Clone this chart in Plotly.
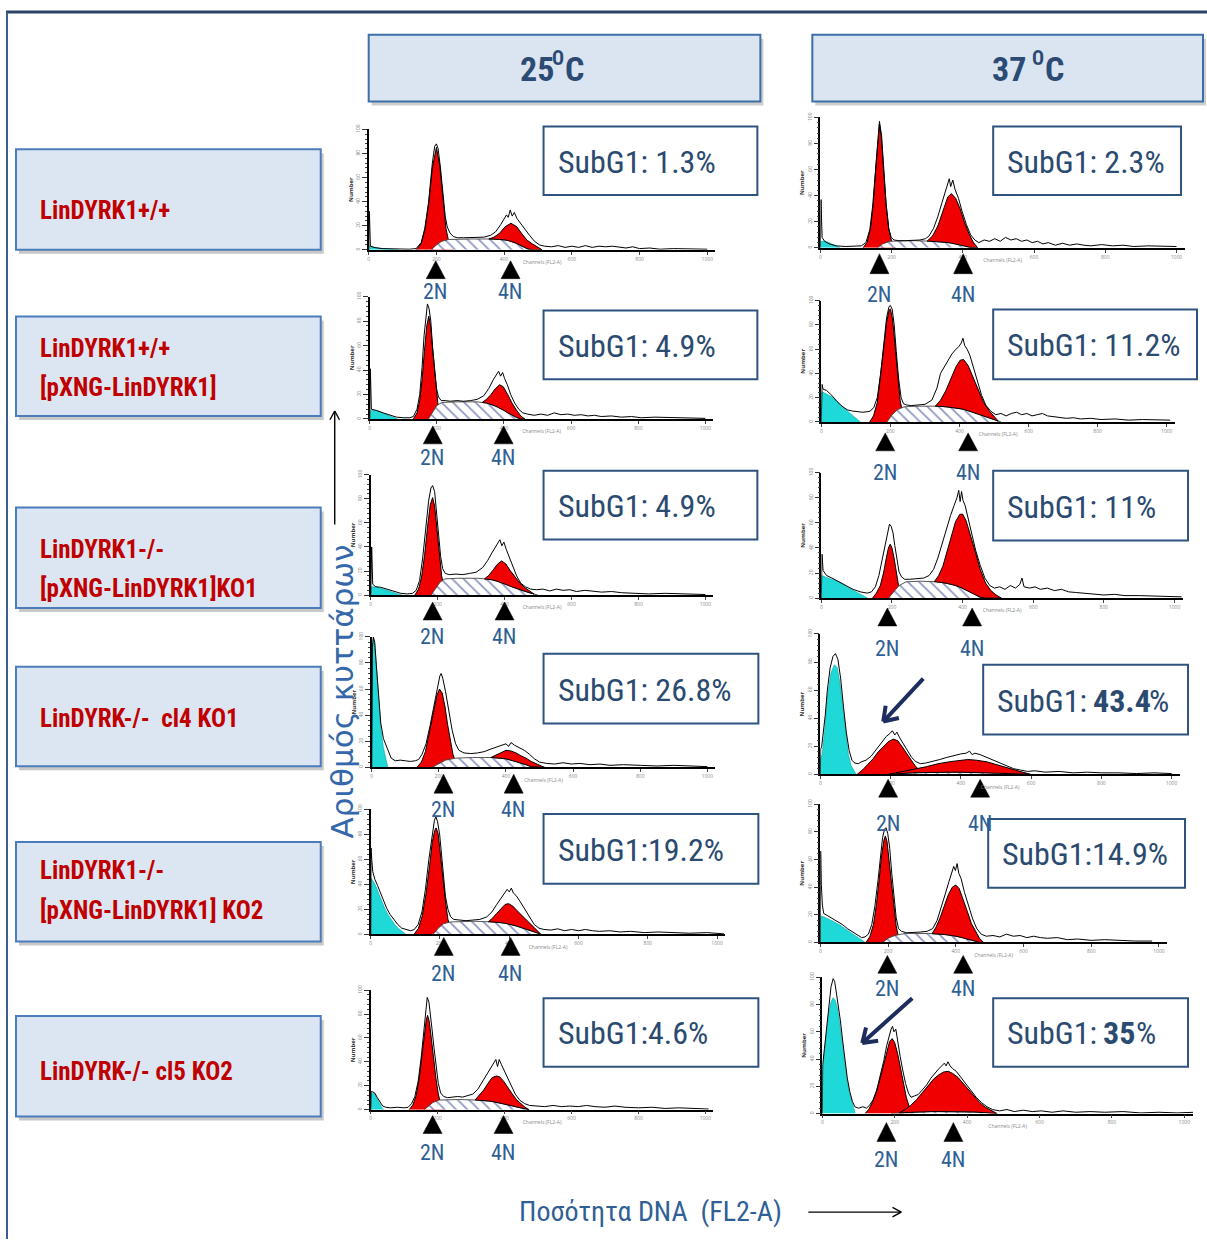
import numpy as np
import plotly.graph_objects as go

W, H = 1207, 1240
NARROW = "Liberation Sans Narrow, Arial Narrow, Roboto Condensed, sans-serif"
WIDE = "DejaVu Sans, Verdana, sans-serif"

# ---------------------------------------------------------------------------
# Data: DNA-content histograms (channel 0-1024, relative cell count 0-100)
# Each component is a list of (channel, count) points.
#   sub = sub-G1 (cyan), g1 = G1 peak (red), s = S phase (hatched),
#   g2 = G2/M peak height above S phase (red), raw = measured histogram.
# ---------------------------------------------------------------------------

# LinDYRK1+/+  25 C
sub_wt_25 = [(0, 0), (1, 3), (10, 3), (25, 1.5), (45, 1), (70, 0.5), (90, 0)]
g1_wt_25 = [(140, 0), (155, 5), (166, 17), (177, 38), (188, 68), (200, 85), (210, 70),
            (219, 42), (228, 18), (237, 6), (248, 0)]
s_wt_25 = [(185, 0), (200, 4), (215, 7), (235, 8.5), (300, 9), (370, 9), (410, 8),
           (440, 5), (460, 2), (475, 0)]
g2_wt_25 = [(355, 0), (370, 1.5), (386, 5), (403, 11), (420, 15), (437, 14), (453, 10),
            (468, 7), (483, 5), (498, 2.5), (512, 0)]
raw_wt_25 = [(0, 0), (2, 32), (5, 3), (15, 2), (40, 1), (80, 0.5), (120, 0.5), (140, 1),
             (155, 6), (166, 18), (177, 40), (188, 72), (195, 86), (200, 88), (205, 84),
             (212, 68), (219, 46), (226, 28), (232, 19), (240, 14), (250, 11), (262, 10),
             (280, 10), (300, 10), (320, 10), (340, 10.5), (360, 12), (375, 15), (390, 21),
             (400, 26), (407, 29), (412, 27), (418, 33), (424, 28), (430, 31), (438, 26),
             (448, 22), (460, 17), (475, 12), (490, 7), (505, 4), (520, 3), (540, 2.5),
             (560, 3.5), (580, 2), (600, 3), (620, 2), (640, 3.5), (660, 2), (680, 3),
             (700, 2.5), (720, 3), (740, 2), (760, 1.5), (780, 2.5), (800, 1), (830, 1.5),
             (860, 0.5), (900, 1), (950, 0.5), (1000, 0.5)]

# LinDYRK1+/+  37 C
sub_wt_37 = [(0, 0), (1, 5), (15, 5), (30, 3.5), (45, 1.5), (55, 0)]
g1_wt_37 = [(120, 0), (131, 4), (141, 15), (149, 35), (156, 62), (162, 85), (166, 95),
            (171, 86), (177, 62), (184, 35), (192, 15), (200, 5), (210, 0)]
s_wt_37 = [(160, 0), (175, 3), (195, 5), (260, 5.5), (320, 5), (360, 4), (390, 2.5),
           (410, 1), (425, 0)]
g2_wt_37 = [(300, 0), (315, 4), (330, 12), (345, 25), (358, 35), (368, 38), (380, 35),
            (392, 28), (405, 18), (418, 10), (430, 4), (442, 0)]
raw_wt_37 = [(0, 0), (2, 37), (5, 8), (12, 5), (25, 3), (45, 1.5), (70, 1), (100, 1),
             (115, 1.5), (128, 4), (139, 14), (147, 32), (155, 60), (161, 85), (166, 97),
             (172, 86), (178, 60), (185, 33), (192, 15), (199, 8), (207, 6), (220, 5.5),
             (240, 5.5), (260, 6), (280, 6), (295, 7), (305, 9), (318, 15), (330, 24),
             (342, 35), (352, 44), (358, 48), (362, 53), (366, 47), (372, 52), (378, 45),
             (388, 38), (398, 28), (410, 18), (422, 10), (434, 6), (445, 4), (460, 6),
             (475, 5), (490, 7), (505, 5), (520, 8), (535, 6), (550, 7), (565, 5), (580, 6),
             (595, 4), (610, 5), (625, 3), (640, 4), (660, 2), (680, 3.5), (700, 2),
             (720, 3), (740, 2), (760, 1.5), (790, 2.5), (820, 1.5), (850, 2), (880, 1),
             (920, 1.5), (960, 1), (1000, 1)]

# LinDYRK1+/+ [pXNG-LinDYRK1]  25 C
sub_add_25 = [(0, 0), (1, 7), (20, 7), (35, 5.5), (50, 3.5), (65, 2), (83, 0)]
g1_add_25 = [(130, 0), (141, 5), (149, 15), (156, 32), (163, 55), (170, 76), (176, 84),
             (182, 75), (189, 52), (196, 30), (203, 13), (211, 4), (220, 0)]
s_add_25 = [(175, 0), (188, 6), (200, 11), (215, 13.5), (260, 14), (320, 14), (350, 13),
            (380, 10), (400, 7), (420, 3.5), (440, 1), (450, 0)]
g2_add_25 = [(335, 0), (348, 3), (361, 8), (374, 14), (387, 19), (398, 19), (411, 15),
             (424, 10), (437, 6), (450, 2.5), (462, 0)]
raw_add_25 = [(0, 0), (2, 41), (5, 8), (20, 7), (40, 5), (60, 3), (80, 1.5), (100, 1),
              (120, 1), (130, 2), (141, 8), (149, 20), (156, 42), (162, 68), (168, 88),
              (172, 94), (177, 90), (182, 80), (187, 60), (193, 40), (199, 25), (205, 18),
              (213, 15), (225, 15), (240, 14.5), (260, 15), (280, 14.5), (300, 15),
              (320, 16), (340, 19), (355, 25), (368, 32), (378, 36), (384, 39), (390, 35),
              (396, 38), (402, 33), (410, 28), (420, 20), (432, 13), (444, 8), (456, 5),
              (470, 4), (490, 3), (510, 4), (530, 3), (550, 5), (570, 3.5), (590, 4),
              (610, 3), (630, 3.5), (650, 2.5), (670, 3), (690, 2), (720, 2.5), (750, 1.5),
              (780, 2), (810, 1), (850, 1.5), (900, 1), (950, 1), (1000, 0.5)]

# LinDYRK1+/+ [pXNG-LinDYRK1]  37 C
sub_add_37 = [(0, 0), (1, 25), (15, 23), (35, 20), (55, 14), (75, 9), (95, 4), (113, 0)]
g1_add_37 = [(140, 0), (151, 5), (162, 16), (172, 38), (181, 62), (189, 82), (196, 92),
             (200, 93), (206, 85), (213, 65), (220, 40), (228, 18), (236, 6), (245, 0)]
s_add_37 = [(190, 0), (205, 6), (220, 10), (240, 12.5), (280, 13), (340, 13), (380, 12),
            (420, 10), (450, 7), (480, 4), (505, 1.5), (520, 0)]
g2_add_37 = [(330, 0), (345, 5), (360, 13), (375, 24), (390, 34), (402, 40), (412, 41),
             (425, 37), (440, 28), (455, 19), (470, 11), (485, 6), (500, 2.5), (512, 0)]
raw_add_37 = [(0, 0), (2, 31), (5, 27), (15, 26), (30, 22), (45, 17), (60, 13), (75, 10),
              (90, 9), (105, 8.5), (120, 8), (135, 8.5), (142, 9), (152, 12), (162, 20),
              (172, 40), (181, 65), (189, 86), (196, 95), (200, 96), (205, 93), (211, 80),
              (217, 58), (224, 35), (231, 20), (238, 15), (247, 14), (260, 13.5), (280, 14),
              (300, 14.5), (320, 18), (335, 28), (345, 40), (355, 45), (365, 50), (378, 56),
              (390, 60), (398, 62), (405, 65), (410, 69), (415, 63), (422, 60), (430, 55),
              (440, 45), (452, 32), (464, 22), (476, 14), (490, 9), (505, 6), (520, 7),
              (535, 5), (550, 7), (565, 8), (580, 6), (595, 7), (610, 5), (625, 6), (640, 7),
              (655, 5), (670, 4.5), (690, 4), (710, 3), (730, 3.5), (750, 2.5), (780, 3),
              (810, 2), (850, 2.5), (890, 1.5), (930, 2), (970, 1.5), (1010, 1.5)]

# LinDYRK1-/- [pXNG-LinDYRK1]KO1  25 C
sub_ko1_25 = [(0, 0), (1, 7), (20, 6.5), (40, 5), (60, 3), (80, 1.2), (95, 0)]
g1_ko1_25 = [(132, 0), (143, 5), (152, 15), (161, 33), (170, 57), (178, 75), (185, 81),
             (191, 74), (198, 55), (205, 33), (212, 16), (220, 5), (228, 0)]
s_ko1_25 = [(180, 0), (195, 6), (208, 11), (222, 13.5), (260, 14), (320, 14), (360, 13),
            (390, 10.5), (420, 7), (450, 4), (480, 1.5), (500, 0)]
g2_ko1_25 = [(340, 0), (352, 3), (365, 8), (378, 14), (391, 18), (404, 17), (417, 13),
             (431, 9), (446, 5.5), (461, 3), (476, 1), (488, 0)]
raw_ko1_25 = [(0, 0), (3, 40), (6, 9), (15, 7), (30, 6.5), (50, 5), (70, 3), (90, 1.5),
              (110, 1), (125, 1.5), (136, 4), (146, 12), (155, 30), (164, 55), (173, 78),
              (180, 89), (185, 91), (191, 86), (197, 70), (203, 50), (209, 32), (215, 22),
              (223, 18), (235, 17), (255, 17.5), (275, 17), (295, 18), (315, 19), (335, 23),
              (350, 29), (362, 35), (372, 40), (380, 43), (386, 46), (392, 41), (398, 44),
              (405, 38), (414, 32), (424, 24), (436, 16), (448, 10), (462, 7), (478, 5),
              (495, 4.5), (515, 5), (535, 3.5), (555, 5), (575, 4), (595, 4.5), (615, 3),
              (640, 4), (665, 3), (690, 2.5), (720, 3), (750, 2), (790, 1.5), (830, 1),
              (880, 1.5), (940, 1), (1000, 0.5)]

# LinDYRK1-/- [pXNG-LinDYRK1]KO1  37 C
sub_ko1_37 = [(0, 0), (1, 18), (15, 16.5), (35, 14.5), (54, 12.5), (75, 8.5), (101, 4.5),
              (118, 2), (131, 0)]
g1_ko1_37 = [(145, 0), (156, 4), (167, 10), (176, 20), (184, 32), (190, 40), (195, 43),
             (200, 40), (206, 32), (212, 21), (218, 11), (225, 4), (234, 0)]
s_ko1_37 = [(190, 0), (205, 5), (220, 10), (240, 13), (280, 13.5), (330, 13), (370, 11),
            (400, 8), (425, 4.5), (445, 1.5), (455, 0)]
g2_ko1_37 = [(320, 0), (332, 5), (344, 13), (356, 25), (368, 39), (380, 51), (392, 58),
             (400, 59), (410, 55), (422, 46), (436, 34), (450, 22), (465, 12), (480, 6),
             (495, 2.5), (510, 0)]
raw_ko1_37 = [(0, 0), (2, 35), (5, 22), (15, 18), (30, 16), (50, 13), (70, 10), (90, 7),
              (110, 5), (130, 4), (142, 5), (153, 9), (163, 18), (173, 32), (182, 46),
              (189, 55), (193, 59), (198, 57), (203, 52), (208, 42), (214, 30), (220, 21),
              (227, 17), (236, 15), (250, 15), (270, 15.5), (290, 16), (305, 18), (318, 23),
              (330, 32), (342, 44), (354, 56), (366, 66), (376, 74), (384, 80), (389, 86),
              (393, 77), (397, 85), (401, 78), (407, 74), (415, 64), (425, 52), (437, 38),
              (450, 26), (463, 16), (477, 10), (490, 8), (505, 9), (520, 7), (535, 10),
              (550, 8), (562, 11), (568, 16), (574, 9), (590, 8), (605, 9), (620, 7),
              (640, 8), (660, 6), (680, 7), (700, 5), (720, 4.5), (745, 4), (770, 3),
              (800, 2.5), (830, 3), (860, 2), (900, 2), (940, 1.5), (980, 1.5), (1020, 1)]

# LinDYRK-/- cl4 KO1  25 C
sub_cl4_25 = [(0, 0), (2, 90), (5, 99), (9, 95), (14, 75), (20, 50), (27, 30), (35, 15),
              (42, 6), (48, 0)]
g1_cl4_25 = [(135, 0), (148, 4), (160, 12), (172, 26), (184, 42), (194, 55), (202, 60),
             (210, 57), (218, 47), (226, 33), (234, 20), (242, 10), (250, 4), (258, 0)]
s_cl4_25 = [(180, 0), (200, 3), (220, 5.5), (250, 7), (300, 7.5), (360, 7.5), (400, 6.5),
            (430, 4.5), (460, 2), (480, 0)]
g2_cl4_25 = [(355, 0), (370, 2), (385, 4.5), (400, 6.5), (415, 7), (430, 6.5), (445, 5.5),
             (460, 5), (475, 4), (490, 2.5), (505, 1), (515, 0)]
raw_cl4_25 = [(0, 0), (2, 92), (5, 100), (9, 96), (14, 78), (20, 54), (27, 34), (35, 22),
              (42, 17), (50, 12), (58, 7), (70, 5), (85, 5.5), (100, 5), (115, 4.5),
              (130, 5), (140, 6), (150, 10), (162, 18), (174, 32), (186, 48), (196, 63),
              (203, 70), (207, 72), (212, 68), (220, 58), (230, 42), (240, 28), (250, 18),
              (260, 13), (275, 11), (295, 10.5), (315, 11), (335, 12), (355, 14), (375, 16),
              (390, 17), (400, 18), (408, 16), (415, 19), (425, 17), (440, 15), (455, 13),
              (470, 10), (485, 6.5), (500, 4), (520, 3), (545, 2.5), (570, 3.5), (595, 2.5),
              (620, 3), (650, 2), (680, 2.5), (710, 1.5), (750, 2), (800, 1.5), (850, 1),
              (900, 1.5), (950, 1), (1000, 0.5)]

# LinDYRK-/- cl4 KO1  37 C
sub_cl4_37 = [(0, 0), (1, 11), (5, 14), (12, 30), (20, 55), (30, 72), (40, 78), (48, 76),
              (56, 65), (64, 47), (72, 28), (80, 14), (88, 6), (96, 2), (102, 0)]
g1_cl4_37 = [(105, 0), (120, 3), (135, 7), (150, 11), (165, 16), (180, 20), (195, 23.5),
             (208, 25), (220, 24), (232, 20), (245, 15), (258, 10), (270, 6), (282, 3),
             (295, 0)]
s_cl4_37 = [(200, 0), (260, 1), (330, 1.5), (450, 1.5), (520, 1), (580, 0)]
g2_cl4_37 = [(195, 0), (230, 1), (265, 2.5), (300, 4), (335, 6), (370, 7.5), (400, 8.5),
             (420, 9), (445, 8.5), (475, 7.5), (505, 5.5), (535, 3.5), (565, 2), (598, 0)]
raw_cl4_37 = [(0, 0), (1, 18), (4, 20), (8, 28), (14, 42), (20, 60), (28, 76), (36, 84),
              (43, 86), (50, 82), (58, 68), (66, 48), (74, 30), (82, 17), (90, 10), (98, 8),
              (108, 7.5), (118, 9), (130, 10), (145, 13), (160, 18), (175, 23), (188, 27),
              (198, 29), (205, 31), (212, 28), (218, 30), (226, 26), (236, 22), (248, 17),
              (260, 12), (272, 9), (285, 7.5), (300, 8), (320, 9), (340, 10.5), (360, 12),
              (380, 13.5), (400, 14.5), (415, 15), (425, 16.5), (432, 14), (440, 15),
              (455, 14), (470, 12.5), (490, 10), (510, 8), (530, 6), (550, 4), (570, 3),
              (590, 2), (610, 2.5), (640, 1.5), (680, 2), (720, 1), (760, 1.5), (800, 1),
              (850, 1), (900, 0.5), (950, 1), (1000, 0.5)]

# LinDYRK1-/- [pXNG-LinDYRK1] KO2  25 C
sub_ko2_25 = [(0, 0), (1, 45), (8, 42), (16, 38), (24, 32), (32, 26), (42, 20), (52, 15),
              (62, 11), (72, 7), (84, 4), (95, 1.5), (102, 0)]
g1_ko2_25 = [(125, 0), (138, 5), (149, 15), (160, 33), (170, 55), (178, 74), (185, 83),
             (189, 85), (195, 80), (202, 64), (209, 44), (216, 26), (223, 12), (231, 4),
             (240, 0)]
s_ko2_25 = [(180, 0), (195, 5), (210, 8.5), (230, 10), (300, 10.5), (360, 10), (400, 8.5),
            (430, 6), (460, 3), (485, 1), (495, 0)]
g2_ko2_25 = [(340, 0), (352, 3), (364, 7), (376, 11), (388, 15), (398, 16), (410, 15),
             (422, 12.5), (435, 10), (448, 7.5), (462, 5), (476, 2.5), (490, 0)]
raw_ko2_25 = [(0, 0), (1, 69), (3, 60), (6, 50), (12, 44), (20, 39), (28, 33), (36, 27),
              (46, 21), (56, 16), (66, 12), (78, 8), (90, 5), (105, 3.5), (115, 3),
              (126, 4), (137, 8), (148, 18), (158, 36), (168, 60), (177, 80), (184, 91),
              (188, 94), (193, 90), (199, 80), (204, 66), (210, 48), (216, 30), (223, 20),
              (231, 14), (240, 12), (255, 11.5), (275, 11), (295, 11.5), (315, 12),
              (335, 14), (350, 18), (364, 24), (376, 29), (386, 33), (394, 36), (400, 34),
              (406, 37), (412, 33), (420, 31), (432, 26), (445, 20), (458, 14), (472, 8),
              (486, 5), (500, 4), (520, 3.5), (540, 4.5), (560, 3), (580, 4), (600, 3),
              (620, 4), (640, 3), (660, 2.5), (690, 3), (720, 2), (750, 2.5), (790, 1.5),
              (830, 2), (870, 1.5), (920, 1), (970, 1.5), (1020, 0.5)]

# LinDYRK1-/- [pXNG-LinDYRK1] KO2  37 C
sub_ko2_37 = [(0, 0), (1, 19), (10, 18.5), (25, 17), (40, 15), (55, 13), (70, 10.5),
              (85, 8), (100, 5.5), (115, 3), (125, 1.5), (133, 0)]
g1_ko2_37 = [(135, 0), (146, 4), (157, 13), (166, 28), (174, 46), (181, 63), (188, 74),
             (192, 77), (197, 73), (203, 60), (210, 42), (217, 25), (224, 12), (231, 4),
             (240, 0)]
s_ko2_37 = [(185, 0), (200, 3), (220, 5), (250, 6.5), (320, 6.5), (380, 5.5), (420, 3.5),
            (450, 1.5), (470, 0)]
g2_ko2_37 = [(330, 0), (342, 5), (354, 12), (366, 21), (378, 29), (390, 35), (400, 37),
             (410, 35), (422, 28), (434, 20), (446, 12), (458, 7), (470, 3), (482, 0)]
raw_ko2_37 = [(0, 0), (1, 66), (3, 42), (6, 27), (10, 21), (20, 19.5), (35, 17.5),
              (50, 15.5), (65, 13), (80, 10), (95, 7.5), (110, 5), (122, 3.5), (132, 4),
              (142, 6), (152, 13), (161, 26), (170, 44), (177, 62), (184, 76), (190, 82),
              (194, 83), (199, 79), (205, 68), (211, 50), (218, 32), (224, 18), (231, 10),
              (240, 8), (255, 7), (275, 7), (295, 7.5), (315, 8), (332, 10), (345, 16),
              (357, 25), (369, 35), (380, 44), (388, 50), (394, 55), (399, 52), (404, 57),
              (409, 50), (416, 46), (426, 36), (438, 26), (450, 17), (462, 10), (475, 6),
              (490, 4.5), (510, 5), (530, 4), (550, 6), (570, 4.5), (590, 5), (610, 3.5),
              (630, 4.5), (650, 3.5), (670, 3), (700, 3.5), (730, 2), (760, 2.5), (800, 1.5),
              (840, 2), (880, 1.5), (930, 1), (980, 1)]

# LinDYRK-/- cl5 KO2  25 C
sub_cl5_25 = [(0, 0), (1, 13), (6, 14), (12, 13), (18, 10), (25, 6), (32, 2.5), (39, 0)]
g1_cl5_25 = [(115, 0), (126, 4), (136, 12), (145, 26), (153, 45), (160, 63), (166, 75),
             (170, 79), (175, 74), (181, 60), (188, 42), (195, 26), (202, 13), (209, 5),
             (217, 0)]
s_cl5_25 = [(160, 0), (172, 3), (186, 6), (205, 8), (260, 8.5), (320, 8), (360, 7),
            (395, 5), (425, 3), (450, 1.2), (470, 0)]
g2_cl5_25 = [(312, 0), (325, 4), (338, 9), (351, 15), (363, 20), (375, 22), (385, 22),
             (397, 19), (410, 14), (423, 10), (436, 6), (449, 3.5), (461, 1.5), (473, 0)]
raw_cl5_25 = [(0, 0), (1, 15), (5, 15), (12, 14), (20, 10), (28, 6), (36, 3), (45, 2),
              (60, 1.5), (80, 2), (100, 1.5), (112, 2), (122, 5), (132, 11), (142, 24),
              (151, 44), (158, 66), (164, 84), (169, 94), (174, 90), (178, 82), (183, 68),
              (189, 52), (195, 36), (202, 22), (209, 14), (218, 11), (230, 10), (245, 10.5),
              (260, 11), (275, 10.5), (290, 11.5), (305, 13), (320, 17), (333, 23),
              (345, 29), (357, 34), (367, 38), (374, 42), (379, 36), (384, 42), (390, 38),
              (398, 33), (408, 27), (420, 19), (432, 13), (445, 8), (460, 5), (475, 3.5),
              (495, 3), (520, 2.5), (545, 3.5), (570, 2.5), (595, 3), (620, 2.5), (645, 3.5),
              (670, 2.5), (700, 2), (730, 3), (760, 2), (800, 1.5), (840, 2), (880, 1),
              (920, 1.5), (970, 1), (1010, 0.5)]

# LinDYRK-/- cl5 KO2  37 C
sub_cl5_37 = [(0, 0), (1, 34), (6, 45), (12, 60), (18, 74), (24, 82), (30, 85), (36, 83),
              (42, 77), (48, 66), (55, 52), (62, 37), (69, 23), (76, 14), (83, 7), (91, 0)]
g1_cl5_37 = [(118, 0), (128, 3), (138, 8), (148, 15), (158, 24), (168, 35), (178, 46),
             (186, 53), (193, 55), (200, 52), (208, 44), (216, 33), (224, 22), (232, 12),
             (240, 5), (248, 0)]
s_cl5_37 = [(190, 0), (240, 1), (300, 1.5), (380, 1.5), (440, 1), (480, 0)]
g2_cl5_37 = [(212, 0), (228, 2), (244, 5), (260, 9), (276, 14), (292, 19), (308, 24),
             (322, 27), (335, 29), (348, 29.5), (360, 28), (375, 25), (390, 20.5),
             (405, 15.5), (420, 11), (435, 7), (450, 4), (465, 2), (483, 0)]
raw_cl5_37 = [(0, 0), (1, 36), (6, 48), (12, 64), (18, 80), (24, 93), (30, 99), (34, 97),
              (38, 90), (44, 80), (50, 68), (56, 54), (62, 40), (69, 26), (76, 16), (83, 9),
              (90, 5), (100, 4), (112, 5), (122, 4), (130, 6), (140, 10), (150, 17),
              (160, 27), (170, 39), (178, 50), (185, 58), (190, 62), (194, 64), (198, 60),
              (203, 62), (208, 52), (215, 42), (222, 32), (230, 22), (238, 15), (245, 12),
              (255, 13), (265, 14), (275, 17), (288, 21), (300, 26), (312, 30), (322, 33),
              (330, 35), (337, 37), (342, 35), (347, 38), (353, 35), (360, 33), (370, 31),
              (382, 27), (395, 22), (410, 17), (425, 12), (440, 8), (455, 5), (470, 3),
              (490, 2), (510, 3), (530, 1.5), (555, 2.5), (580, 1.5), (605, 2), (635, 1),
              (665, 2), (700, 1), (740, 1.5), (780, 1), (830, 1.5), (880, 0.5), (930, 1),
              (980, 0.5), (1030, 1)]

# 2N / 4N reference channels marked under each histogram (rows top-down)
mark_2n_25 = [198, 188, 185, 214, 211, 185]
mark_4n_25 = [419, 399, 400, 423, 404, 397]
mark_2n_37 = [166, 185, 187, 193, 198, 177]
mark_4n_37 = [401, 425, 427, 455, 422, 362]

# Sub-G1 fractions (%)
subg1_25 = [1.3, 4.9, 4.9, 26.8, 19.2, 4.6]
subg1_37 = [2.3, 11.2, 11, 43.4, 14.9, 35]

temperatures = ["25", "37 "]
strain_lines = [
    ["LinDYRK1+/+"],
    ["LinDYRK1+/+", "[pXNG-LinDYRK1]"],
    ["LinDYRK1-/-", "[pXNG-LinDYRK1]KO1"],
    ["LinDYRK-/-  cl4 KO1"],
    ["LinDYRK1-/-", "[pXNG-LinDYRK1] KO2"],
    ["LinDYRK-/- cl5 KO2"],
]
y_title = "Αριθμός κυττάρων"
x_title = "Ποσότητα DNA  (FL2-A)"

histograms = {
    (0, 0): (sub_wt_25, g1_wt_25, s_wt_25, g2_wt_25, raw_wt_25),
    (0, 1): (sub_wt_37, g1_wt_37, s_wt_37, g2_wt_37, raw_wt_37),
    (1, 0): (sub_add_25, g1_add_25, s_add_25, g2_add_25, raw_add_25),
    (1, 1): (sub_add_37, g1_add_37, s_add_37, g2_add_37, raw_add_37),
    (2, 0): (sub_ko1_25, g1_ko1_25, s_ko1_25, g2_ko1_25, raw_ko1_25),
    (2, 1): (sub_ko1_37, g1_ko1_37, s_ko1_37, g2_ko1_37, raw_ko1_37),
    (3, 0): (sub_cl4_25, g1_cl4_25, s_cl4_25, g2_cl4_25, raw_cl4_25),
    (3, 1): (sub_cl4_37, g1_cl4_37, s_cl4_37, g2_cl4_37, raw_cl4_37),
    (4, 0): (sub_ko2_25, g1_ko2_25, s_ko2_25, g2_ko2_25, raw_ko2_25),
    (4, 1): (sub_ko2_37, g1_ko2_37, s_ko2_37, g2_ko2_37, raw_ko2_37),
    (5, 0): (sub_cl5_25, g1_cl5_25, s_cl5_25, g2_cl5_25, raw_cl5_25),
    (5, 1): (sub_cl5_37, g1_cl5_37, s_cl5_37, g2_cl5_37, raw_cl5_37),
}

# ---------------------------------------------------------------------------
# Layout geometry (pixels on the 1207 x 1240 canvas)
# ---------------------------------------------------------------------------
# histogram frames: left, right, top, bottom
frames = {
    (0, 0): (368, 715, 125, 246), (0, 1): (820, 1185, 113, 244),
    (1, 0): (369, 713, 293, 416), (1, 1): (821, 1175, 297, 419),
    (2, 0): (370, 713, 472, 593), (2, 1): (821, 1183, 470, 596),
    (3, 0): (371, 715, 635, 766), (3, 1): (820, 1180, 632, 773),
    (4, 0): (370, 725, 808, 934), (4, 1): (820, 1167, 803, 942),
    (5, 0): (370, 713, 990, 1110), (5, 1): (822, 1193, 977, 1114),
}
# ploidy markers: triangle top, triangle bottom, label centre
marker_rows = {
    (0, 0): (257, 275, 288), (0, 1): (250, 270, 291),
    (1, 0): (423, 441, 455), (1, 1): (430, 448, 470),
    (2, 0): (600, 618, 635), (2, 1): (606, 624, 647),
    (3, 0): (773, 792, 808), (3, 1): (778, 796, 822),
    (4, 0): (937, 955, 973), (4, 1): (955, 973, 988),
    (5, 0): (1116, 1134, 1153), (5, 1): (1123, 1142, 1160),
}
subg1_boxes = {
    (0, 0): (543, 122, 757, 191), (0, 1): (993, 122, 1181, 191),
    (1, 0): (543, 307, 757, 376), (1, 1): (993, 306, 1197, 376),
    (2, 0): (543, 468, 757, 537), (2, 1): (993, 468, 1188, 538),
    (3, 0): (543, 652, 758, 722), (3, 1): (983, 663, 1188, 733),
    (4, 0): (543, 813, 758, 883), (4, 1): (988, 818, 1185, 887),
    (5, 0): (543, 998, 758, 1067), (5, 1): (993, 998, 1188, 1067),
}
label_boxes = [(145, 246), (313, 413), (505, 606), (665, 765), (841, 941), (1016, 1117)]
label_text_y = [[207], [345, 384], [547, 586], [717], [870, 910], [1072]]
header_boxes = [(368, 30, 760, 97), (812, 30, 1203, 97)]
header_text_x = [517, 990]          # left edge of the header caption
header_num_w = [32, 40]             # width of the numeral part (incl. trailing space)

SUBG1_SPACED = {(4, 0), (5, 0), (4, 1)}
SUBG1_BOLD = {(3, 1), (5, 1)}

# rendered advance widths (px) of the caption pieces at size 32
HEAD_W = 88          # "SubG1:"
SPACE_W = 7
BOLD_DIGIT_W = 15.5
BOLD_DOT_W = 7.5

RED = "#f00000"
CYAN = "#1fd8d8"
NAVY_TXT = "#2a4a70"
BLUE_TXT = "#2f5f95"
DARK_RED = "#c00000"
HEAD_TXT = "#2b4b74"


def fx(x):
    return x / W


def fy(y):
    return 1 - y / H


fig = go.Figure()
shapes = []
annotations = []


def rect(x0, y0, x1, y1, **kw):
    shapes.append(dict(type="rect", xref="paper", yref="paper",
                       x0=fx(x0), x1=fx(x1), y0=fy(y1), y1=fy(y0), layer="below", **kw))


def seg(x0, y0, x1, y1, color, width):
    shapes.append(dict(type="line", xref="paper", yref="paper",
                       x0=fx(x0), y0=fy(y0), x1=fx(x1), y1=fy(y1),
                       line=dict(color=color, width=width)))


def open_arrow(x0, y0, x1, y1, color, width, head=12, spread=0.55):
    """Line from (x0, y0) to tip (x1, y1) with an open chevron head (pixels)."""
    seg(x0, y0, x1, y1, color, width)
    d = np.array([x0 - x1, y0 - y1], dtype=float)
    d /= np.hypot(*d)
    for a in (spread, -spread):
        rot = np.array([[np.cos(a), -np.sin(a)], [np.sin(a), np.cos(a)]])
        hx, hy = rot @ d * head
        seg(x1, y1, x1 + hx, y1 + hy, color, width)


def text(x, y, s, size, color, family=NARROW, xanchor="center", bold=False, **kw):
    font = dict(family=family, size=size, color=color)
    if bold:
        font["weight"] = "bold"
    annotations.append(dict(xref="paper", yref="paper", x=fx(x), y=fy(y), text=s,
                            xanchor=xanchor, yanchor="middle", showarrow=False,
                            font=font, **kw))


# page frame
seg(5, 7, 1207, 7, "#2d4366", 3)
seg(6, 7, 6, 1240, "#3b5f8c", 2)

# header boxes: "<temperature> °C" with a raised O
for (x0, y0, x1, y1), num, tx, nw in zip(header_boxes, temperatures, header_text_x,
                                         header_num_w):
    rect(x0 + 3, y0 + 4, x1 + 3, y1 + 4, fillcolor="#b8b8b8", line=dict(width=0), opacity=0.7)
    rect(x0, y0, x1, y1, fillcolor="#dbe5f1", line=dict(color="#3c6fa8", width=2))
    text(tx, 64, num, 34, HEAD_TXT, xanchor="left", bold=True)
    text(tx + nw, 53, "O", 20, HEAD_TXT, xanchor="left", bold=True)
    text(tx + nw + 13, 64, "C", 34, HEAD_TXT, xanchor="left", bold=True)

# strain label boxes
for (y0, y1), lines, ys in zip(label_boxes, strain_lines, label_text_y):
    rect(18, y0 + 4, 323, y1 + 4, fillcolor="#b0b0b0", line=dict(width=0), opacity=0.7)
    rect(15, y0, 320, y1, fillcolor="#dce6f2", line=dict(color="#4b7dbb", width=2))
    for line_txt, ty in zip(lines, ys):
        text(37, ty, line_txt, 25, DARK_RED, xanchor="left", bold=True)

# histograms
for idx, key in enumerate(sorted(histograms)):
    r, c = key
    n = idx + 1
    xs = "x" if n == 1 else f"x{n}"
    ys = "y" if n == 1 else f"y{n}"
    left, right, top, bottom = frames[key]
    sub, g1, s, g2, raw = histograms[key]

    def trace(pts, **kw):
        arr = np.array(pts, dtype=float)
        fig.add_trace(go.Scatter(x=arr[:, 0], y=arr[:, 1], xaxis=xs, yaxis=ys,
                                 mode="lines", hoverinfo="skip", showlegend=False, **kw))

    trace(sub, fill="toself", fillcolor=CYAN, line=dict(color="#0aa6a6", width=0.6))
    trace(g1, fill="toself", fillcolor=RED, line=dict(color="black", width=1))
    trace(s, fill="toself", fillcolor="white", line=dict(color="#444444", width=0.9),
          fillpattern=dict(shape="\\", fgcolor="#1d2d80", bgcolor="white", size=8, solidity=0.22))
    # G2/M sits on top of the S-phase distribution
    s_arr = np.array(s, dtype=float)
    g2_arr = np.array(g2, dtype=float)
    base = np.interp(g2_arr[:, 0], s_arr[:, 0], s_arr[:, 1], left=0, right=0)
    gx = np.concatenate([g2_arr[:, 0], g2_arr[::-1, 0]])
    gy = np.concatenate([base + g2_arr[:, 1], base[::-1]])
    trace(list(zip(gx, gy)), fill="toself", fillcolor=RED, line=dict(color="black", width=1))
    trace(raw, line=dict(color="black", width=1))

    fig.update_layout(**{
        ("xaxis" if n == 1 else f"xaxis{n}"): dict(
            domain=[fx(left), fx(right)], range=[0, 1024], anchor=ys,
            showline=True, linecolor="black", linewidth=1.5, showgrid=False, zeroline=False,
            ticks="outside", ticklen=3, tickwidth=1, tickcolor="#444", dtick=200,
            tickfont=dict(size=5, color="#8a8a8a"),
            title=dict(text="Channels (FL2-A)", font=dict(size=5, color="#8a8a8a"), standoff=0)),
        ("yaxis" if n == 1 else f"yaxis{n}"): dict(
            domain=[fy(bottom), fy(top)], range=[0, 100], anchor=xs,
            showline=True, linecolor="black", linewidth=1.5, showgrid=False, zeroline=False,
            ticks="outside", ticklen=5, tickwidth=1, tickcolor="#333", dtick=20,
            tickangle=-90, tickfont=dict(size=5, color="#8a8a8a"),
            minor=dict(dtick=4, ticks="outside", ticklen=2, tickcolor="#444"),
            title=dict(text="Number", font=dict(size=6, color="#333", weight="bold"),
                       standoff=1)),
    })

    # 2N / 4N markers
    t_top, t_bot, lab_y = marker_rows[key]
    marks = ([mark_2n_25, mark_2n_37][c][r], [mark_4n_25, mark_4n_37][c][r])
    ch_per_px = 1024 / (right - left)
    hw = 9.5 * ch_per_px
    for ch, lab in zip(marks, ("2N", "4N")):
        shapes.append(dict(type="path", xref=xs, yref="paper",
                           path=f"M {ch - hw},{fy(t_bot)} L {ch + hw},{fy(t_bot)} L {ch},{fy(t_top)} Z",
                           fillcolor="black", line=dict(color="black", width=0.5)))
        annotations.append(dict(xref=xs, yref="paper", x=ch, y=fy(lab_y), text=lab,
                                xanchor="center", yanchor="middle", showarrow=False,
                                font=dict(family=NARROW, size=22, color=BLUE_TXT)))

    # Sub-G1 box
    bx0, by0, bx1, by1 = subg1_boxes[key]
    rect(bx0, by0, bx1, by1, fillcolor="white", line=dict(color="#2f5381", width=2))
    val = [subg1_25, subg1_37][c][r]
    num = f"{val:g}"
    sep = "" if key in SUBG1_SPACED else " "
    ty = (by0 + by1) / 2 + 1
    tx = bx0 + 12
    if key in SUBG1_BOLD:
        # caption with the value set in bold: three pieces laid out left to right
        text(tx, ty, "SubG1:", 32, NAVY_TXT, xanchor="left")
        nx = tx + HEAD_W + (SPACE_W if sep else 0) + 1
        text(nx, ty, num, 32, NAVY_TXT, xanchor="left", bold=True)
        num_w = sum(BOLD_DOT_W if ch == "." else BOLD_DIGIT_W for ch in num)
        text(nx + num_w + 2, ty, "%", 32, NAVY_TXT, xanchor="left")
    else:
        text(tx, ty, f"SubG1:{sep}{num}%", 32, NAVY_TXT, xanchor="left")

# axis captions and arrows
text(341, 690, y_title, 31, "#3468aa", family=WIDE, textangle=-90)
open_arrow(334, 522, 334, 408, "black", 1.4, head=10, spread=0.5)
text(650, 1212, x_title.replace("  ", " \u00a0"), 28, BLUE_TXT)
open_arrow(808, 1213, 901, 1213, "black", 1.4, head=10, spread=0.5)

# arrows pointing at the reduced G1 populations at 37 C
open_arrow(923, 677, 883, 720, "#1c2d5e", 4, head=16, spread=0.6)
open_arrow(912, 998, 862, 1043, "#1c2d5e", 4, head=16, spread=0.6)

fig.update_layout(width=W, height=H, margin=dict(l=0, r=0, t=0, b=0),
                  paper_bgcolor="white", plot_bgcolor="rgba(0,0,0,0)",
                  shapes=shapes, annotations=annotations, showlegend=False)

fig.write_html("out.html")
